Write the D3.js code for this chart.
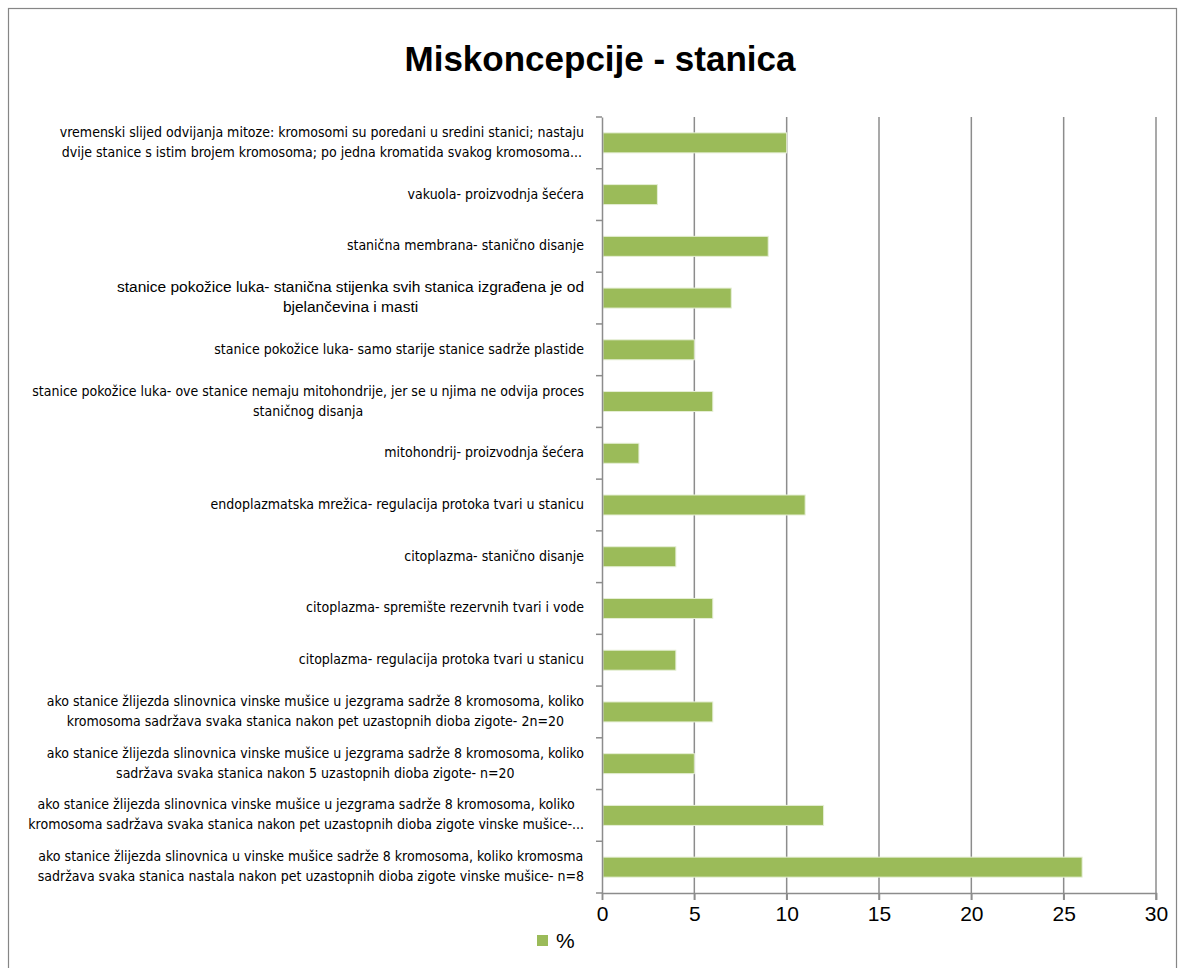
<!DOCTYPE html>
<html>
<head>
<meta charset="utf-8">
<script src="https://cdn.jsdelivr.net/npm/d3@7"></script>
<style>
  body { margin: 0; background: #fff; }
  svg text { fill: #000; }
</style>
</head>
<body>
<div id="chart"></div>
<script>
// categories top -> bottom, as in the picture
const categories = [
  "vremenski slijed odvijanja mitoze: kromosomi su poredani u sredini stanici;  nastaju\ndvije stanice s istim brojem kromosoma; po jedna kromatida svakog kromosoma...",
  "vakuola- proizvodnja šećera",
  "stanična membrana- stanično disanje",
  "stanice pokožice luka- stanična stijenka svih stanica izgrađena je od\nbjelančevina i masti",
  "stanice pokožice luka- samo starije stanice sadrže plastide",
  "stanice pokožice luka- ove stanice nemaju mitohondrije, jer se u njima ne odvija proces\nstaničnog disanja",
  "mitohondrij- proizvodnja šećera",
  "endoplazmatska mrežica- regulacija protoka tvari u stanicu",
  "citoplazma- stanično disanje",
  "citoplazma- spremište rezervnih tvari i vode",
  "citoplazma- regulacija protoka tvari u stanicu",
  "ako stanice žlijezda slinovnica vinske mušice u jezgrama sadrže 8 kromosoma, koliko\nkromosoma sadržava svaka stanica nakon pet uzastopnih dioba zigote- 2n=20",
  "ako stanice žlijezda slinovnica vinske mušice u jezgrama sadrže 8 kromosoma, koliko\nsadržava svaka stanica nakon 5 uzastopnih dioba zigote- n=20",
  "ako stanice žlijezda slinovnica vinske mušice u jezgrama sadrže 8 kromosoma, koliko\nkromosoma sadržava svaka stanica nakon pet uzastopnih dioba zigote vinske mušice-...",
  "ako stanice žlijezda slinovnica u vinske mušice sadrže 8 kromosoma, koliko kromosma\nsadržava svaka stanica nastala nakon pet uzastopnih dioba zigote vinske mušice- n=8"
];
const percent = [10, 3, 9, 7, 5, 6, 2, 11, 4, 6, 4, 6, 5, 12, 26];
const xTicks = [0, 5, 10, 15, 20, 25, 30];
const seriesName = "%";
const chartTitle = "Miskoncepcije - stanica";

const W = 1184, H = 968;
const plotLeft = 602, plotRight = 1156, plotTop = 117, plotBottom = 893;
const labelFont = "'Liberation Sans Narrow', 'DejaVu Sans Condensed', 'Liberation Sans', sans-serif";
const green = "#9bbb59";

var svg = d3.select('#chart').append('svg')
  .attr('width', W)
  .attr('height', H);

// outer frame
svg.append('rect')
  .attr('x', 8.5).attr('y', 8.5)
  .attr('width', 1168).attr('height', 980)
  .attr('fill', '#fff')
  .attr('stroke', '#868686')
  .attr('stroke-width', 1.2);

svg.append('text')
  .attr('x', 600).attr('y', 71)
  .attr('text-anchor', 'middle')
  .style('font-family', "'Liberation Sans', Arial, sans-serif")
  .style('font-weight', 'bold')
  .style('font-size', '35px')
  .text(chartTitle);

var x = d3.scaleLinear().domain([0, 30]).range([plotLeft, plotRight]);
var yb = d3.scaleBand().domain(d3.range(categories.length)).range([plotTop, plotBottom]);

// vertical gridlines (with tick extension below the axis)
svg.append('g')
  .selectAll('line')
  .data(xTicks.slice(1))
  .enter().append('line')
  .attr('x1', d => x(d)).attr('x2', d => x(d))
  .attr('y1', plotTop).attr('y2', plotBottom + 7)
  .attr('stroke', '#8c8c8c')
  .attr('stroke-width', 1.5);

// bars
svg.append('g')
  .selectAll('rect')
  .data(percent)
  .enter().append('rect')
  .attr('x', x(0) + 1)
  .attr('y', (d, i) => yb(i) + yb.bandwidth() / 2 - 10)
  .attr('width', d => x(d) - x(0) - 1)
  .attr('height', 20)
  .attr('fill', green)
  .attr('stroke', '#e6efd6')
  .attr('stroke-width', 1);

// x axis
var xAxis = d3.axisBottom(x).tickValues(xTicks).tickSize(7).tickPadding(6);
var gx = svg.append('g').attr('transform', 'translate(0,' + plotBottom + ')').call(xAxis);
gx.select('.domain').attr('stroke', '#8c8c8c').attr('stroke-width', 1.5);
gx.selectAll('.tick line').attr('stroke', '#8c8c8c').attr('stroke-width', 1.5);
gx.selectAll('.tick text')
  .style('font-family', "'Liberation Sans', Arial, sans-serif")
  .style('font-size', '21px')
  .attr('fill', '#000');

// y axis line with ticks at band boundaries
var yAxis = d3.axisLeft(yb).tickSize(0).tickFormat('');
var gy = svg.append('g').attr('transform', 'translate(' + plotLeft + ',0)').call(yAxis);
gy.select('.domain').attr('stroke', '#8c8c8c').attr('stroke-width', 1.5);
gy.selectAll('.edge')
  .data(d3.range(categories.length + 1))
  .enter().append('line')
  .attr('x1', -6).attr('x2', 0)
  .attr('y1', d => plotTop + d * yb.step()).attr('y2', d => plotTop + d * yb.step())
  .attr('stroke', '#8c8c8c').attr('stroke-width', 1.5);

// category labels: block right aligned, lines centred inside block
var labelRight = 584, lineGap = 20;
var gl = svg.append('g');
categories.forEach(function (c, i) {
  var lines = c.split('\n');
  var big = (i === 3);
  var g = gl.append('g');
  var texts = lines.map(function (ln, k) {
    return g.append('text')
      .style('font-family', big ? "'Liberation Sans', Arial, sans-serif" : labelFont)
      .style('font-size', big ? '15.5px' : '14px')
      .attr('dominant-baseline', 'middle')
      .attr('text-anchor', 'middle')
      .attr('y', yb(i) + yb.bandwidth() / 2 + (k - (lines.length - 1) / 2) * lineGap)
      .text(ln);
  });
  var maxW = d3.max(texts, t => t.node().getComputedTextLength());
  texts.forEach(t => t.attr('x', labelRight - maxW / 2));
});

// legend
svg.append('rect')
  .attr('x', 537).attr('y', 935)
  .attr('width', 11).attr('height', 11)
  .attr('fill', green);
svg.append('text')
  .attr('x', 556).attr('y', 942)
  .attr('dominant-baseline', 'middle')
  .style('font-family', "'Liberation Sans', Arial, sans-serif")
  .style('font-size', '21px')
  .text(seriesName);
</script>
</body>
</html>
